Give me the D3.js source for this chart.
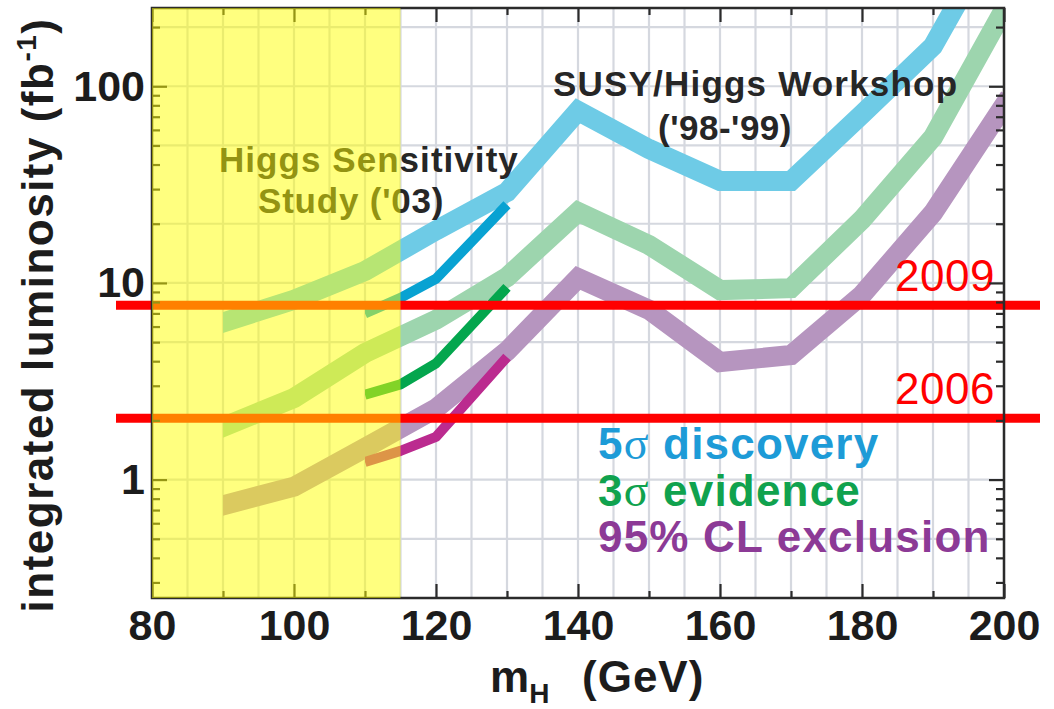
<!DOCTYPE html>
<html>
<head>
<meta charset="utf-8">
<script src="https://cdn.jsdelivr.net/npm/d3@7"></script>
<style>
  html, body { margin: 0; padding: 0; background: #fff; }
  svg { display: block; }
</style>
</head>
<body>
<script>
// Higgs mass points (GeV) for the SUSY/Higgs Workshop curves
const massWorkshop    = [90, 100, 110, 120, 130, 140, 150, 160, 170, 180, 190, 200];
const discovery5sigma = [6.3, 8.2, 11.5, 18.5, 29, 75, 48, 33, 33, 72, 160, 700];
const evidence3sigma  = [1.85, 2.6, 4.4, 6.5, 10.7, 23, 15.6, 9.2, 9.4, 21, 55, 245];
const exclusion95     = [0.74, 0.92, 1.45, 2.3, 4.5, 10.6, 7.3, 3.96, 4.3, 8.7, 22.7, 80];

// Higgs Sensitivity Study ('03) curves
const massStudy      = [110, 115, 120, 130];
const studyDiscovery = [7.0, 8.4, 10.5, 25];
const studyEvidence  = [2.7, 3.05, 3.9, 9.5];
const studyExclusion = [1.23, 1.40, 1.65, 4.2];

// Integrated luminosity expected by year (fb^-1)
const yearLabels = ["2006", "2009"];
const yearLumi   = [2.05, 7.7];

// Axis ticks
const xTickLabels = [80, 100, 120, 140, 160, 180, 200];
const xMinorTicks = [90, 110, 130, 150, 170, 190];
const yTickLabels = [1, 10, 100];
const yGridValues = [0.5, 1, 2, 5, 10, 20, 50, 100, 200];
const sensitivityRegion = [80, 115];

const legendLabels = ["discovery", "evidence", "95% CL exclusion"];

const W = 1054, H = 709;
const plot = { left: 152, right: 1004, top: 8, bottom: 598 };

const x = d3.scaleLinear().domain([80, 200]).range([plot.left, plot.right]);
const y = d3.scaleLog().domain([0.25, 250]).range([plot.bottom, plot.top]);

const svg = d3.select("body").append("svg")
  .attr("width", W).attr("height", H)
  .style("font-family", "'Liberation Sans', Arial, Helvetica, sans-serif");

svg.append("rect").attr("width", W).attr("height", H).attr("fill", "#fff");

const defs = svg.append("defs");
defs.append("clipPath").attr("id", "plotClip")
  .append("rect")
  .attr("x", plot.left).attr("y", plot.top)
  .attr("width", plot.right - plot.left).attr("height", plot.bottom - plot.top);
defs.append("clipPath").attr("id", "bandClip")
  .append("rect")
  .attr("x", x(massWorkshop[0])).attr("y", plot.top)
  .attr("width", x(d3.max(massWorkshop)) - x(massWorkshop[0]))
  .attr("height", plot.bottom - plot.top);
defs.append("clipPath").attr("id", "studyClip")
  .append("rect")
  .attr("x", x(massStudy[0])).attr("y", plot.top)
  .attr("width", x(d3.max(massStudy)) - x(massStudy[0]) + 20)
  .attr("height", plot.bottom - plot.top);

// ---- grid ----
const grid = svg.append("g").attr("stroke", "#d5d8df").attr("stroke-width", 2.2);
grid.selectAll("line.v").data(d3.range(80, 201, 5)).join("line")
  .attr("x1", d => x(d)).attr("x2", d => x(d))
  .attr("y1", plot.top).attr("y2", plot.bottom);
grid.selectAll("line.h").data(yGridValues).join("line")
  .attr("x1", plot.left).attr("x2", plot.right)
  .attr("y1", d => y(d)).attr("y2", d => y(d));

// ---- curves ----
const line = d3.line().x(d => x(d[0])).y(d => y(d[1]));

const bands = [
  { values: discovery5sigma, color: "#6ecbe6" },
  { values: evidence3sigma,  color: "#9dd5ae" },
  { values: exclusion95,     color: "#b695bf" }
];
const bandLayer = svg.append("g").attr("clip-path", "url(#plotClip)")
  .append("g").attr("clip-path", "url(#bandClip)");
bandLayer.selectAll("path").data(bands).join("path")
  .attr("d", s => line(d3.zip(massWorkshop, s.values)))
  .attr("fill", "none")
  .attr("stroke", s => s.color)
  .attr("stroke-width", 20)
  .attr("stroke-linejoin", "miter")
  .attr("stroke-linecap", "square");

const study = [
  { values: studyDiscovery, color: "#08a2d2" },
  { values: studyEvidence,  color: "#04a64e" },
  { values: studyExclusion, color: "#bb2b8f" }
];
const studyLayer = svg.append("g").attr("clip-path", "url(#plotClip)")
  .append("g").attr("clip-path", "url(#studyClip)");
studyLayer.selectAll("path").data(study).join("path")
  .attr("d", s => line(d3.zip(massStudy, s.values)))
  .attr("fill", "none")
  .attr("stroke", s => s.color)
  .attr("stroke-width", 10)
  .attr("stroke-linejoin", "round")
  .attr("stroke-linecap", "butt");

// ---- luminosity lines per year ----
svg.append("g").selectAll("line").data(yearLumi).join("line")
  .attr("x1", plot.left - 36).attr("x2", plot.right + 36)
  .attr("y1", d => y(d)).attr("y2", d => y(d))
  .attr("stroke", "#ff0000").attr("stroke-width", 9);

svg.append("g").selectAll("text").data(yearLabels).join("text")
  .attr("x", plot.right - 9)
  .attr("y", (d, i) => y(yearLumi[i]) - 14)
  .attr("text-anchor", "end")
  .attr("fill", "#ff0000")
  .attr("font-size", 44)
  .attr("letter-spacing", 0.5)
  .text(d => d);

// ---- annotations ----
const note = svg.append("g").attr("fill", "#262626").attr("font-weight", "bold").attr("font-size", 35);
note.append("text").attr("x", 219).attr("y", 172).attr("letter-spacing", 1.05)
  .text("Higgs Sensitivity");
note.append("text").attr("x", 258).attr("y", 213).attr("letter-spacing", 0.8)
  .text("Study ('03)");
note.append("text").attr("x", 553).attr("y", 96).attr("letter-spacing", 1.2)
  .text("SUSY/Higgs Workshop");
note.append("text").attr("x", 658).attr("y", 140).attr("letter-spacing", 0.5)
  .text("('98-'99)");

// ---- legend ----
const legendColors = ["#1d9bd7", "#10a24e", "#8c3a96"];
const legendPrefix = ["5", "3", ""];
const legend = svg.append("g").attr("font-weight", "bold").attr("font-size", 44).attr("letter-spacing", 1.2);
legendLabels.forEach((lbl, i) => {
  const t = legend.append("text")
    .attr("x", 598).attr("y", 459 + i * 46.5)
    .attr("fill", legendColors[i]);
  if (legendPrefix[i]) {
    t.append("tspan").text(legendPrefix[i]);
    t.append("tspan").attr("font-family", "'Liberation Serif', 'DejaVu Serif', serif")
      .attr("font-weight", "normal").attr("font-size", 46).text("\u03C3");
    t.append("tspan").text(" " + lbl);
  } else {
    t.append("tspan").text(lbl);
  }
});

// ---- axes ----
const axisColor = "#2b2b2b";
const minorY = [];
[0.1, 1, 10, 100].forEach(dec => d3.range(2, 10).forEach(k => {
  const v = dec * k;
  if (v >= 0.25 && v <= 250) minorY.push(v);
}));

function styleAxis(g) {
  g.select(".domain").remove();
  g.selectAll(".tick line").attr("stroke", axisColor).attr("stroke-width", 2.2);
}

const labelFont = g => g.selectAll("text")
  .attr("font-size", 43).attr("font-weight", "bold").attr("fill", "#1c1c1c")
  .attr("font-family", "'Liberation Sans', Arial, sans-serif");

// left
svg.append("g").attr("transform", `translate(${plot.left},0)`)
  .call(d3.axisLeft(y).tickValues(yTickLabels).tickFormat(d3.format("d")).tickSize(-15).tickPadding(7))
  .call(styleAxis).call(labelFont);
svg.append("g").attr("transform", `translate(${plot.left},0)`)
  .call(d3.axisLeft(y).tickValues(minorY).tickFormat("").tickSize(-8))
  .call(styleAxis);
// right
svg.append("g").attr("transform", `translate(${plot.right},0)`)
  .call(d3.axisRight(y).tickValues(yTickLabels).tickFormat("").tickSize(-15))
  .call(styleAxis);
svg.append("g").attr("transform", `translate(${plot.right},0)`)
  .call(d3.axisRight(y).tickValues(minorY).tickFormat("").tickSize(-8))
  .call(styleAxis);
// bottom
svg.append("g").attr("transform", `translate(0,${plot.bottom})`)
  .call(d3.axisBottom(x).tickValues(xTickLabels).tickFormat(d3.format("d")).tickSize(-14).tickPadding(11))
  .call(styleAxis).call(labelFont);
svg.append("g").attr("transform", `translate(0,${plot.bottom})`)
  .call(d3.axisBottom(x).tickValues(xMinorTicks).tickFormat("").tickSize(-7))
  .call(styleAxis);
// top
svg.append("g").attr("transform", `translate(0,${plot.top})`)
  .call(d3.axisTop(x).tickValues(xTickLabels).tickFormat("").tickSize(-14))
  .call(styleAxis);
svg.append("g").attr("transform", `translate(0,${plot.top})`)
  .call(d3.axisTop(x).tickValues(xMinorTicks).tickFormat("").tickSize(-7))
  .call(styleAxis);

// frame
svg.append("rect")
  .attr("x", plot.left).attr("y", plot.top)
  .attr("width", plot.right - plot.left).attr("height", plot.bottom - plot.top)
  .attr("fill", "none").attr("stroke", axisColor).attr("stroke-width", 2.5);

// ---- Higgs Sensitivity Study mass region (translucent yellow) ----
svg.append("rect")
  .attr("x", x(sensitivityRegion[0]))
  .attr("y", plot.top)
  .attr("width", x(sensitivityRegion[1]) - x(sensitivityRegion[0]))
  .attr("height", plot.bottom - plot.top)
  .attr("fill", "#ffff00").attr("fill-opacity", 0.5);

// ---- axis titles ----
const xt = svg.append("text")
  .attr("x", 490).attr("y", 692)
  .attr("font-size", 44).attr("font-weight", "bold").attr("fill", "#1c1c1c");
xt.append("tspan").text("m");
xt.append("tspan").attr("font-size", 28).attr("dy", 11).text("H");
xt.append("tspan").attr("x", 582).attr("dy", -11).attr("letter-spacing", 1).text("(GeV)");

const yt = svg.append("text")
  .attr("transform", `translate(53,315) rotate(-90)`)
  .attr("text-anchor", "middle")
  .attr("font-size", 44).attr("font-weight", "bold").attr("fill", "#1c1c1c")
  .attr("letter-spacing", 1.5);
yt.append("tspan").text("integrated luminosity (fb");
yt.append("tspan").attr("font-size", 28).attr("dy", -17).text("-1");
yt.append("tspan").attr("dy", 17).text(")");
</script>
</body>
</html>
